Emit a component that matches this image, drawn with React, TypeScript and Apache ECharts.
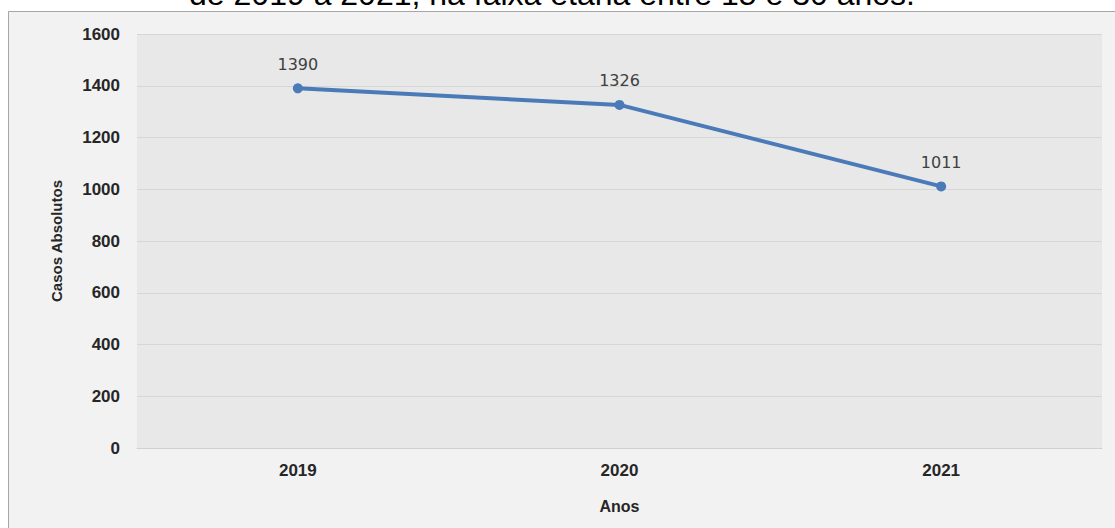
import React, { useEffect, useRef } from "react";
import * as echarts from "echarts";

const categories = ["2019", "2020", "2021"];
const casos = [1390, 1326, 1011];
const yTicks = { min: 0, max: 1600, interval: 200 };
const titleLine = "de 2019 a 2021, na faixa etária entre 15 e 30 anos.";

export default function App() {
  const ref = useRef<HTMLDivElement>(null);
  useEffect(() => {
    const chart = echarts.init(ref.current!, null, { renderer: "svg" });
    chart.setOption({
      animation: false,
      backgroundColor: "#ffffff",
      graphic: [
        {
          type: "rect",
          z: -10,
          shape: { x: 8.5, y: 11.5, width: 1120, height: 530 },
          style: { fill: "#f2f2f2", stroke: "#a6a6a6", lineWidth: 1 },
        },
        {
          type: "text",
          x: 552,
          y: -6,
          style: {
            text: titleLine,
            font: "32px 'Liberation Sans', Arial, sans-serif",
            fill: "#000000",
            align: "center",
            verticalAlign: "middle",
          },
        },
      ],
      grid: {
        left: 137,
        right: 13,
        top: 34,
        bottom: 80,
        show: true,
        backgroundColor: "#e8e8e8",
        borderWidth: 0,
      },
      xAxis: {
        type: "category",
        data: categories,
        boundaryGap: true,
        name: "Anos",
        nameLocation: "middle",
        nameGap: 50,
        nameTextStyle: {
          fontFamily: "'Liberation Sans', Arial, sans-serif",
          fontSize: 16,
          fontWeight: "bold",
          color: "#262626",
        },
        axisLine: { show: true, lineStyle: { color: "#d0d0d0" } },
        axisTick: { show: false },
        axisLabel: {
          fontFamily: "'Liberation Sans', Arial, sans-serif",
          fontSize: 17,
          fontWeight: "bold",
          color: "#262626",
          margin: 14,
        },
      },
      yAxis: {
        type: "value",
        min: yTicks.min,
        max: yTicks.max,
        interval: yTicks.interval,
        name: "Casos Absolutos",
        nameLocation: "middle",
        nameGap: 73,
        nameRotate: 90,
        nameTextStyle: {
          fontFamily: "'Liberation Sans', Arial, sans-serif",
          fontSize: 15,
          fontWeight: "bold",
          color: "#262626",
        },
        axisLine: { show: false },
        axisTick: { show: false },
        splitLine: { lineStyle: { color: "#d6d6d6" } },
        axisLabel: {
          fontFamily: "'Liberation Sans', Arial, sans-serif",
          fontSize: 17,
          fontWeight: "bold",
          color: "#262626",
          margin: 17,
          formatter: (v: number) => String(v),
        },
      },
      series: [
        {
          type: "line",
          data: casos,
          symbol: "circle",
          symbolSize: 10,
          lineStyle: { color: "#4a7ab8", width: 4 },
          itemStyle: { color: "#4a7ab8" },
          label: {
            show: true,
            position: "top",
            distance: 11,
            fontFamily: "'DejaVu Sans', sans-serif",
            fontSize: 16,
            color: "#404040",
          },
        },
      ],
    });
    return () => chart.dispose();
  }, []);
  return (
    <div
      ref={ref}
      style={{ position: "absolute", left: 0, top: 0, width: 1115, height: 528 }}
    />
  );
}
